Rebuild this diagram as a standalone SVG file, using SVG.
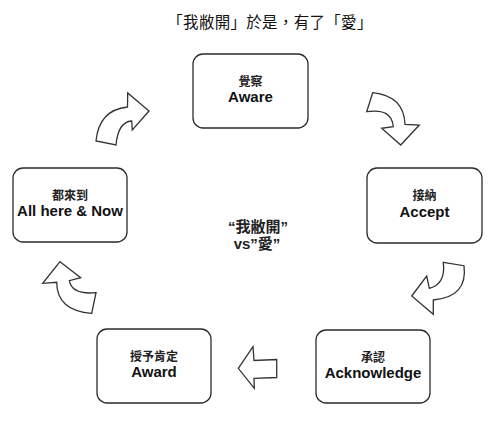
<svg xmlns="http://www.w3.org/2000/svg" width="500" height="424" viewBox="0 0 500 424">
<style>
.box{fill:#fff;stroke:#2b2b2b;stroke-width:1.3}
.arr{fill:#fff;stroke:#333;stroke-width:1.3;stroke-linejoin:miter}
.zh{font-family:"Noto Sans CJK TC","Noto Sans CJK SC",sans-serif;font-size:12px;font-weight:bold;fill:#222;text-anchor:middle}
.en{font-family:"Liberation Sans",Arial,sans-serif;font-size:15px;font-weight:bold;fill:#111;text-anchor:middle}
.title{font-family:"Noto Sans CJK TC","Noto Sans CJK SC",serif;font-size:15.5px;letter-spacing:0.3px;fill:#111;text-anchor:middle}
.mid{font-family:"Liberation Sans","Noto Sans CJK TC",sans-serif;font-size:15px;font-weight:bold;fill:#222;text-anchor:middle}
</style>
<rect width="500" height="424" fill="#fff"/>
<text class="title" x="270" y="28">「我敝開」於是，有了「愛」</text>
<g id="connectors">
<path class="arr" d="M96,141 Q99,110 127.5,107 L127.7,93 L149,111 L132.3,130 L131.7,121 Q118,122 116,145 Z"/>
<path class="arr" d="M372.7,92.7 Q404,96 405,124.3 L419.3,125 L400.7,145 L381.7,128.3 L393.3,126.7 Q392,108 366.7,111.7 Z"/>
<path class="arr" d="M443.3,262.3 L464,265.7 Q468,297 433.3,300 L433.3,314.3 L411.7,296 L426.7,276 L429.3,288.3 Q446,284 443.3,262.3 Z"/>
<path class="arr" d="M60,261.7 L80.7,277.7 L69.3,280.7 Q72,295 96,292.7 L91.7,313.3 Q57,311 56.7,282.3 L42.7,283.3 Z"/>
<path class="arr" d="M238.3,368.3 L253,346.7 L254,360.5 L276.7,359.5 L276.7,377.5 L254,378.3 L254.3,388.3 Z"/>
</g>
<g id="aware">
<rect class="box" x="193" y="54" width="115" height="74" rx="10"/>
<text class="zh" x="250.5" y="86">覺察</text>
<text class="en" x="250.5" y="102">Aware</text>
</g>
<g id="accept">
<rect class="box" x="367" y="168" width="115" height="75" rx="10"/>
<text class="zh" x="424.5" y="200">接納</text>
<text class="en" x="424.5" y="217">Accept</text>
</g>
<g id="acknowledge">
<rect class="box" x="316" y="330" width="114" height="73" rx="10"/>
<text class="zh" x="373" y="362">承認</text>
<text class="en" x="373" y="378">Acknowledge</text>
</g>
<g id="award">
<rect class="box" x="97" y="329" width="114" height="74" rx="10"/>
<text class="zh" x="154" y="361">授予肯定</text>
<text class="en" x="154" y="377">Award</text>
</g>
<g id="allhere">
<rect class="box" x="13" y="168" width="114" height="74" rx="10"/>
<text class="zh" x="70" y="200">都來到</text>
<text class="en" x="70" y="216">All here &amp; Now</text>
</g>
<g id="center">
<text class="mid" x="258" y="232">“我敝開”</text>
<text class="mid" x="257" y="249">vs”愛”</text>
</g>
</svg>
